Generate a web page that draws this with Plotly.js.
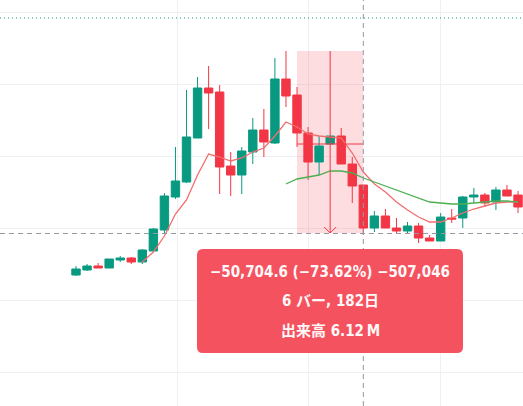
<!DOCTYPE html>
<html>
<head>
<meta charset="utf-8">
<script src="https://cdn.plot.ly/plotly-3.0.1.min.js"></script>
<style>html,body{margin:0;padding:0;background:#fff;}#chart{width:523px;height:406px;}</style>
</head>
<body>
<div id="chart"></div>
<script>
// ---- data (monthly bars) ----
const openP  = [6944, 8333, 9444, 8889, 11111, 11667, 10556, 13611, 19444, 28611, 32778, 45000, 58889, 57778, 37222, 34722, 41111, 47222, 43611, 61389, 56944, 46389, 38333, 43333, 45556, 37778, 31944, 20000, 23333, 20000, 19167, 20556, 17222, 16389, 22778, 22778, 28611, 29167, 27222, 30556, 29167];
const highP  = [9444, 10000, 10278, 11389, 12222, 11944, 14167, 20000, 29722, 42500, 58333, 61944, 65000, 59722, 41111, 42500, 50556, 53056, 67222, 69167, 59167, 48056, 45556, 45556, 47778, 39722, 31944, 24722, 25278, 22778, 21667, 21389, 18056, 24167, 25278, 28889, 31111, 29722, 31389, 31944, 30278];
const lowP   = [6667, 8056, 8889, 8889, 10556, 10000, 10000, 13611, 18333, 28056, 32500, 45000, 47500, 29444, 28889, 29444, 37778, 39722, 43333, 53611, 42500, 33333, 34722, 43333, 37778, 26944, 18056, 18889, 20000, 18611, 18611, 15833, 16389, 16389, 21389, 20000, 26944, 25833, 25000, 28889, 24167];
const closeP = [8611, 9444, 8889, 11389, 11667, 10556, 13889, 19722, 28889, 33056, 45278, 58889, 57500, 36944, 34722, 41389, 47222, 43889, 61389, 56667, 46389, 38333, 42778, 45556, 37778, 31667, 20000, 23333, 20000, 19167, 20556, 17222, 16389, 23056, 22500, 28611, 29167, 26944, 30556, 28889, 25833];
const maFast = [null, null, null, null, null, null, 10556, 13333, 17778, 23889, 27778, 34722, 40556, 39722, 38611, 39444, 41111, 42222, 45556, 49444, 48056, 46111, 45556, 45278, 45000, 40833, 35556, 32222, 30000, 27222, 25000, 23056, 21667, 21667, 22778, 24167, 25278, 26111, 26944, 27222, 27222];
const maSlow = [null, null, null, null, null, null, null, null, null, null, null, null, null, null, null, null, null, null, null, 32222, 33611, 34167, 34722, 35833, 35833, 35278, 33889, 32778, 31667, 30556, 29444, 28333, 27222, 26944, 26667, 26667, 26944, 27222, 27500, 27500, 27222];
const yearGridBars = [9.14, 21.0, 32.95];
const lastPriceLine = 78333;
// measurement (date & price range tool)
const measureStartBar = 20, measureEndBar = 26;
const measureTop = 69167, measureBottom = 18611, measureMidLine = 43333;
const labelLines = ["\u221250,704.6 (\u221273.62%) \u2212507,046", "6 バー, 182日", "出来高 6.12\u2009M"];

const bars = openP.map((_, i) => i);
const W = 523, H = 406;
const xr = [-6.878, 40.45], yr = [-29444, 83333];
const dxPx = (xr[1] - xr[0]) / W, dyPx = (yr[1] - yr[0]) / H;

const UP = '#089981', DN = '#F23645';
const traces = [
  {type: 'candlestick', x: bars, open: openP, high: highP, low: lowP, close: closeP,
   increasing: {line: {color: UP, width: 1}, fillcolor: UP},
   decreasing: {line: {color: DN, width: 1}, fillcolor: DN},
   whiskerwidth: 0, hoverinfo: 'skip', showlegend: false},
  {type: 'scatter', mode: 'lines', x: bars, y: maFast, line: {color: '#F26D6D', width: 1.3},
   hoverinfo: 'skip', showlegend: false},
  {type: 'scatter', mode: 'lines', x: bars, y: maSlow, line: {color: '#4CAF50', width: 1.3},
   hoverinfo: 'skip', showlegend: false}
];

const midBar = (measureStartBar + measureEndBar) / 2;
const shapes = [
  {type: 'line', xref: 'paper', x0: 0, x1: 1, yref: 'y', y0: lastPriceLine, y1: lastPriceLine,
   line: {color: UP, width: 1, dash: '1px,3px'}, layer: 'above'},
  {type: 'rect', x0: measureStartBar, x1: measureEndBar, y0: measureBottom, y1: measureTop,
   fillcolor: 'rgba(242,54,69,0.17)', line: {width: 0}, layer: 'between'},
  {type: 'line', x0: measureStartBar, x1: measureEndBar, y0: measureMidLine, y1: measureMidLine,
   line: {color: DN, width: 1}, layer: 'above'},
  {type: 'line', x0: midBar, x1: midBar, y0: measureTop, y1: measureBottom,
   line: {color: DN, width: 1}, layer: 'above'},
  {type: 'path', layer: 'above', line: {color: DN, width: 1},
   path: `M ${midBar - 6*dxPx} ${measureBottom + 6*dyPx} L ${midBar} ${measureBottom} L ${midBar + 6*dxPx} ${measureBottom + 6*dyPx}`},
  // crosshair
  {type: 'line', xref: 'x', x0: measureEndBar, x1: measureEndBar, yref: 'paper', y0: 0, y1: 1,
   line: {color: '#9598A1', width: 1, dash: '5px,4px'}, layer: 'above'},
  {type: 'line', xref: 'paper', x0: 0, x1: 1, yref: 'y', y0: measureBottom - 0.5*dyPx, y1: measureBottom - 0.5*dyPx,
   line: {color: '#9598A1', width: 1, dash: '5px,4px'}, layer: 'above'}
];

// label box (rounded) in paper coords
function pxX(p) { return p / W; }
function pxY(p) { return 1 - p / H; }
const bx0 = 197, bx1 = 463, by0 = 249, by1 = 353, r = 6;
const boxPath = `M ${pxX(bx0 + r)} ${pxY(by0)} L ${pxX(bx1 - r)} ${pxY(by0)} Q ${pxX(bx1)} ${pxY(by0)} ${pxX(bx1)} ${pxY(by0 + r)} ` +
  `L ${pxX(bx1)} ${pxY(by1 - r)} Q ${pxX(bx1)} ${pxY(by1)} ${pxX(bx1 - r)} ${pxY(by1)} ` +
  `L ${pxX(bx0 + r)} ${pxY(by1)} Q ${pxX(bx0)} ${pxY(by1)} ${pxX(bx0)} ${pxY(by1 - r)} ` +
  `L ${pxX(bx0)} ${pxY(by0 + r)} Q ${pxX(bx0)} ${pxY(by0)} ${pxX(bx0 + r)} ${pxY(by0)} Z`;
shapes.push({type: 'path', xref: 'paper', yref: 'paper', path: boxPath, fillcolor: '#F5525F',
  line: {width: 0}, layer: 'above'});

const lineY = [272, 301, 331];
const annotations = labelLines.map((t, i) => ({
  xref: 'paper', yref: 'paper', x: pxX(330), y: pxY(lineY[i]),
  xanchor: 'center', yanchor: 'middle', showarrow: false, text: t,
  font: {family: '"DejaVu Sans Condensed", "Noto Sans CJK JP", sans-serif', size: 15, color: '#FFF8F8', weight: 700}
}));

const layout = {
  width: W, height: H, margin: {l: 0, r: 0, t: 0, b: 0},
  paper_bgcolor: '#FFFFFF', plot_bgcolor: '#FFFFFF', showlegend: false,
  boxgap: 0.24, boxgroupgap: 0,
  xaxis: {range: xr, tickmode: 'array', tickvals: yearGridBars, showticklabels: false, ticks: '',
          showgrid: true, gridcolor: '#EEF0F3', gridwidth: 1, zeroline: false, showline: false,
          rangeslider: {visible: false}, fixedrange: true},
  yaxis: {range: yr, tick0: 0, dtick: 20000, showticklabels: false, ticks: '',
          showgrid: true, gridcolor: '#EEF0F3', gridwidth: 1, zeroline: false, showline: false, fixedrange: true},
  shapes: shapes, annotations: annotations
};

Plotly.newPlot('chart', traces, layout, {displayModeBar: false, staticPlot: true});
</script>
</body>
</html>
